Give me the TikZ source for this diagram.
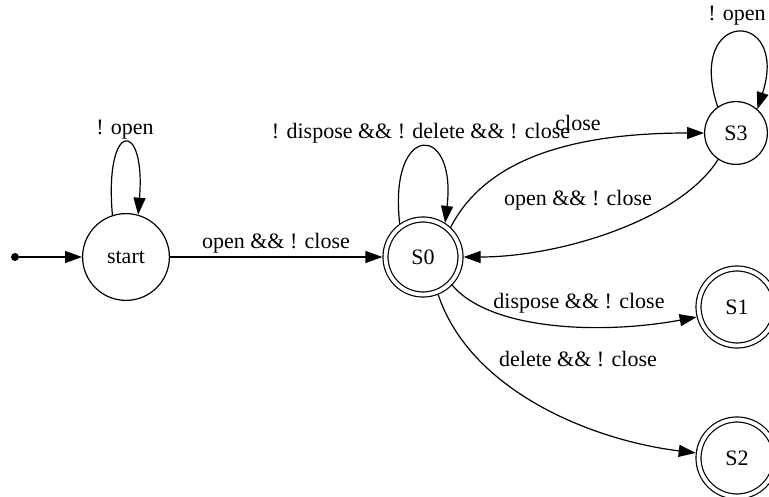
\documentclass[tikz,border=0pt]{standalone}
\usepackage{fontspec}
\setmainfont{Liberation Serif}
\newfontfamily\statefont{Liberation Serif}
\usetikzlibrary{arrows.meta}

\begin{document}
\begin{tikzpicture}[x=1pt, y=-1pt,
  every node/.style={font=\statefont\fontsize{22}{26}\selectfont},
  state/.style={draw, circle, line width=1.2pt, inner sep=0pt},
  accept/.style={state, double, double distance=3.8pt, outer sep=3.1pt, minimum size=75pt},
  plain/.style={state, minimum size=88pt-1.2pt},
  edge/.style={line width=1.2pt, -{Triangle[length=17pt, width=12pt]}},
  lbl/.style={inner sep=0pt}
]
\useasboundingbox (0,0) rectangle (769,497);

% states
\node[plain] (start) at (126,257) {start};
\node[accept] (S0) at (423,257) {S0};
\node[state, minimum size=64pt-1.2pt] (S3) at (736,133) {S3};
\node[accept, minimum size=77pt] (S1) at (737,307) {S1};
\node[accept, minimum size=77pt] (S2) at (737,458) {S2};

% initial marker
\node[circle, fill, inner sep=0pt, minimum size=8pt] (init) at (15,257) {};
\draw[edge] (init) -- (start);

% self loops
\draw[edge] (start.108) .. controls (104,119) and (146,119) .. (start.74);
\node[lbl] (lstart) at (125,130) {! open};

\draw[edge] (S0.125) .. controls (388,122) and (457,122) .. (S0.57);
\node[lbl] (lS0) at (421,133) {! dispose \&\& ! delete \&\& ! close};

\draw[edge] (S3.125) .. controls (685,8) and (790,8) .. (S3.48);
\node[lbl] (lS3) at (737,16) {! open};

% transitions
\draw[edge] (start) -- (S0);
\node[lbl] (lopen) at (276,243) {open \&\& ! close};

\draw[edge] (S0.47) .. controls (485,160) and (570,133) .. (S3.west);
\node[lbl] (lclose) at (578,123) {close};

\draw[edge] (S3.236) .. controls (680,220) and (560,257) .. (S0.east);
\node[lbl] (lback) at (578,200) {open \&\& ! close};

\draw[edge] (S0.-44) .. controls (490,330) and (600,335) .. (S1.194);
\node[lbl] (ldispose) at (579,303) {dispose \&\& ! close};

\draw[edge] (S0.-68) .. controls (470,390) and (590,440) .. (S2.173);
\node[lbl] (ldelete) at (578,359) {delete \&\& ! close};
\end{tikzpicture}
\end{document}
